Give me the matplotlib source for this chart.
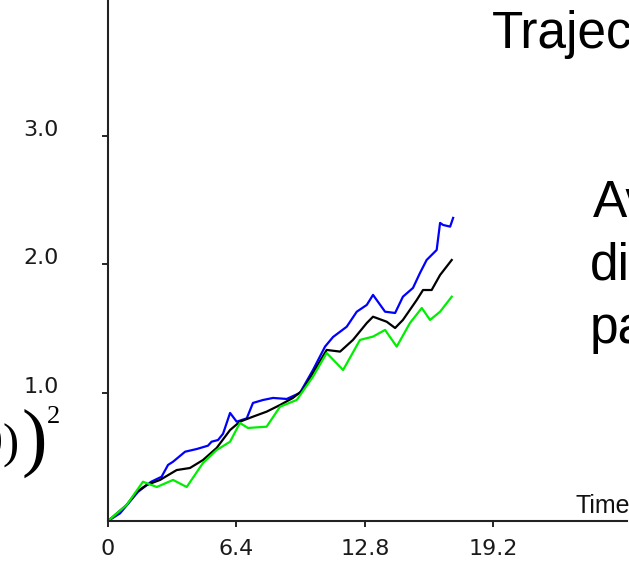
# Trayectorias: desplazamiento cuadratico medio frente al tiempo
import matplotlib
matplotlib.use('Agg')
import matplotlib.pyplot as plt

# Curva negra (promedio)
t_negro = [0, 0.93, 1.43, 1.93, 2.59, 3.42, 4.08, 4.73, 5.41, 6.08, 6.57, 7.22, 7.90,
           8.57, 9.21, 9.71, 10.21, 10.89, 11.56, 12.20, 12.89, 13.20, 13.88, 14.30,
           14.69, 15.38, 15.69, 16.12, 16.54, 17.12]
v_negro = [0, 0.125, 0.228, 0.281, 0.320, 0.397, 0.413, 0.475, 0.569, 0.709, 0.774, 0.813,
           0.852, 0.904, 0.959, 1.021, 1.154, 1.333, 1.320, 1.411, 1.543, 1.592, 1.553,
           1.504, 1.567, 1.723, 1.800, 1.800, 1.917, 2.034]

# Curva azul
t_azul = [0, 0.6, 1.50, 2.15, 2.67, 2.99, 3.24, 3.84, 4.42, 4.98, 5.16, 5.48, 5.73, 6.08,
          6.41, 6.91, 7.22, 7.72, 8.22, 8.90, 9.56, 10.21, 10.81, 11.21, 11.89, 12.39,
          12.89, 13.20, 13.80, 14.30, 14.69, 15.19, 15.54, 15.87, 16.37, 16.54, 16.69,
          17.04, 17.19]
v_azul = [0, 0.06, 0.228, 0.306, 0.345, 0.437, 0.462, 0.540, 0.561, 0.587, 0.618, 0.631,
          0.680, 0.842, 0.774, 0.800, 0.920, 0.943, 0.959, 0.951, 0.998, 1.177, 1.359,
          1.434, 1.514, 1.631, 1.684, 1.762, 1.631, 1.621, 1.748, 1.816, 1.933, 2.034,
          2.112, 2.323, 2.307, 2.294, 2.362]

# Curva verde
t_verde = [0, 0.93, 1.74, 2.43, 3.24, 3.92, 4.73, 5.41, 6.08, 6.57, 6.97, 7.90, 8.57,
           9.40, 10.21, 10.89, 11.71, 12.55, 13.20, 13.80, 14.38, 15.04, 15.63, 16.04,
           16.54, 17.12]
v_verde = [0, 0.125, 0.306, 0.265, 0.320, 0.265, 0.452, 0.553, 0.618, 0.764, 0.725, 0.735,
           0.891, 0.943, 1.125, 1.309, 1.177, 1.411, 1.437, 1.489, 1.359, 1.543, 1.660,
           1.567, 1.631, 1.748]

# Marcas de los ejes
xticks = [0, 6.4, 12.8, 19.2]
xtick_labels = ['0', '6.4', '12.8', '19.2']
yticks = [1, 2, 3]
ytick_labels = ['1.0', '2.0', '3.0']

W, H = 629, 561
fig = plt.figure(figsize=(W / 100, H / 100), dpi=100)
ax = fig.add_axes([108 / W, 40 / H, (627 - 108) / W, 521 / H])

ax.plot(t_azul, v_azul, color='#0000ff', lw=1.6)
ax.plot(t_negro, v_negro, color='black', lw=1.6)
ax.plot(t_verde, v_verde, color='#00ee00', lw=1.6)

ax.set_xlim(0, 25.85)
ax.set_ylim(0, 4.06)
for lado in ['top', 'right']:
    ax.spines[lado].set_visible(False)
for lado in ['left', 'bottom']:
    ax.spines[lado].set_linewidth(1.5)
    ax.spines[lado].set_color('#222222')

ax.set_xticks(xticks)
ax.set_xticklabels(xtick_labels)
ax.set_yticks(yticks)
ax.set_yticklabels(ytick_labels, va='baseline')
ax.tick_params(axis='x', length=4, width=1.2, pad=9, labelsize=16, labelcolor='#1a1a1a')
ax.tick_params(axis='y', length=4, width=1.2, pad=31.5, labelsize=16, labelcolor='#1a1a1a')

# Etiqueta del eje de tiempo
fig.text(575 / W, 1 - 513 / H, 'Time', fontsize=18, family='Liberation Sans',
         color='#111111', va='baseline')

# Texto de la diapositiva (recortado por el borde)
fig.text(492 / W, 1 - 48 / H, 'Trajec', fontsize=37, family='Liberation Sans', va='baseline')
fig.text(593 / W, 1 - 217 / H, 'Av', fontsize=37, family='Liberation Sans', va='baseline')
fig.text(590 / W, 1 - 280 / H, 'di', fontsize=37, family='Liberation Sans', va='baseline')
fig.text(590 / W, 1 - 343 / H, 'pa', fontsize=37, family='Liberation Sans', va='baseline')

# Formula recortada a la izquierda
fig.text(20 / W, 1 - 458 / H, 'x(0)', fontsize=35, family='Liberation Serif',
         ha='right', va='baseline')
fig.text(22 / W, 1 - 462 / H, ')', fontsize=55, family='Liberation Serif', va='baseline')
fig.text(47 / W, 1 - 423 / H, '2', fontsize=19, family='Liberation Serif', va='baseline')

fig.savefig('out.png', dpi=100)
